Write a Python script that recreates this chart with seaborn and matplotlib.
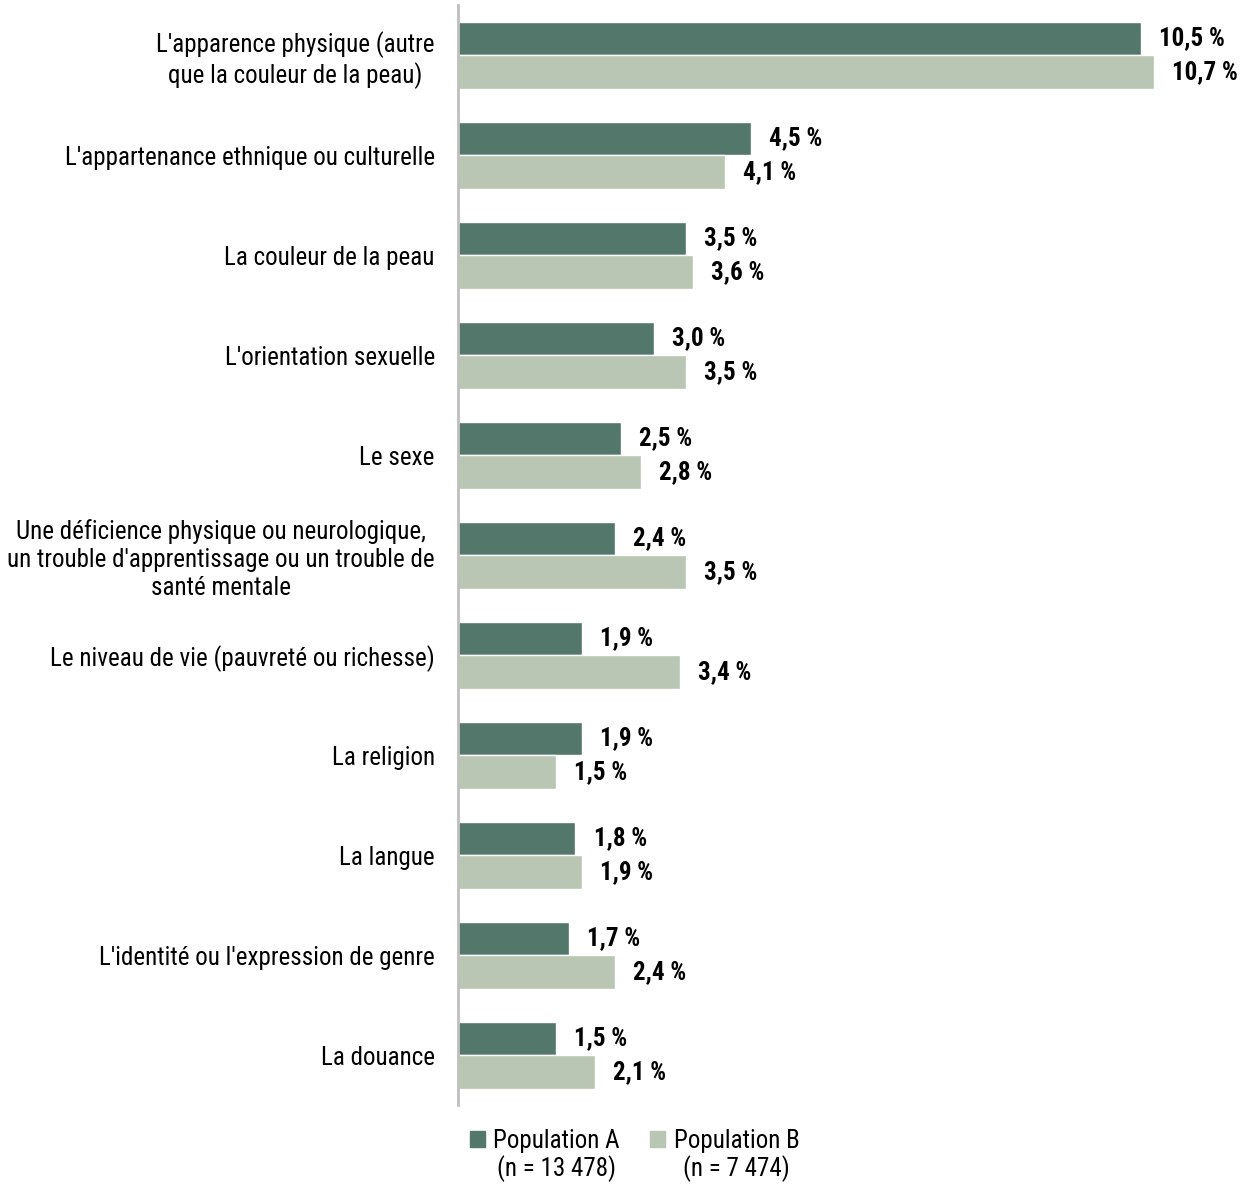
import matplotlib.pyplot as plt
import pandas as pd
import seaborn as sns

# Données
categories = [
    "L'apparence physique (autre\nque la couleur de la peau)",
    "L'appartenance ethnique ou culturelle",
    "La couleur de la peau",
    "L'orientation sexuelle",
    "Le sexe",
    "Une déficience physique ou neurologique,\nun trouble d'apprentissage ou un trouble de\nsanté mentale",
    "Le niveau de vie (pauvreté ou richesse)",
    "La religion",
    "La langue",
    "L'identité ou l'expression de genre",
    "La douance",
]
pop_a = [10.5, 4.5, 3.5, 3.0, 2.5, 2.4, 1.9, 1.9, 1.8, 1.7, 1.5]
pop_b = [10.7, 4.1, 3.6, 3.5, 2.8, 3.5, 3.4, 1.5, 1.9, 2.4, 2.1]
series = ["Population A", "Population B"]
series_n = ["(n = 13 478)", "(n = 7 474)"]
colors = ["#53776A", "#B9C6B3"]

df = pd.DataFrame({
    "categorie": categories * 2,
    "valeur": pop_a + pop_b,
    "population": [series[0]] * len(categories) + [series[1]] * len(categories),
})

sns.set_style("white")
plt.rcParams["font.family"] = ["Roboto Condensed", "Archivo Narrow", "DejaVu Sans"]

fig = plt.figure(figsize=(12.49, 11.85), dpi=100)
ax = fig.add_axes([0.367, 0.0675, 0.625, 0.928])

sns.barplot(data=df, y="categorie", x="valeur", hue="population",
            orient="h", palette=colors, width=0.67, saturation=1,
            ax=ax, legend=True)

# Étiquettes de valeurs
for cont in ax.containers:
    ax.bar_label(cont, labels=[f"{v:.1f} %".replace(".", ",") for v in cont.datavalues],
                 padding=13, fontsize=18, fontweight="bold", color="#000000")

ax.set_xlim(0, 12)
ax.set_xlabel("")
ax.set_ylabel("")
ax.set_xticks([])
ax.tick_params(axis="y", length=0, pad=17, labelsize=18, labelcolor="#000000")
for lab in ax.get_yticklabels():
    lab.set_multialignment("center")
for s in ["top", "right", "bottom"]:
    ax.spines[s].set_visible(False)
ax.spines["left"].set_color("#BFBFBF")
ax.spines["left"].set_linewidth(2)

# Légende
ax.legend_.remove()
handles = [plt.Rectangle((0, 0), 1, 1, color=c) for c in colors]
leg = fig.legend(handles, series, loc="upper center", bbox_to_anchor=(0.508, 0.0665),
                 ncol=2, frameon=False, fontsize=18, handlelength=0.6,
                 handleheight=0.6, handletextpad=0.35, columnspacing=1.2,
                 labelcolor="#000000")
fig.canvas.draw()
inv = fig.transFigure.inverted()
for t, n in zip(leg.get_texts(), series_n):
    bb = t.get_window_extent().transformed(inv)
    fig.text((bb.x0 + bb.x1) / 2, bb.y0 - 0.002, n, ha="center", va="top",
             fontsize=18, color="#000000")

fig.savefig("out.png", dpi=100)
